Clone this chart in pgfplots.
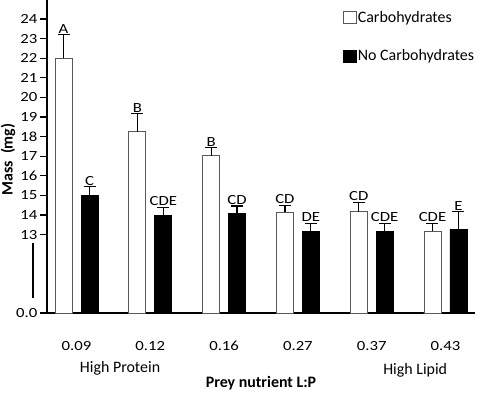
\documentclass[border=0pt]{standalone}
\usepackage{fontspec}
\setmainfont{Carlito}
\newfontfamily\stretchfont{Carlito}[FakeStretch=1.2]
\usepackage{pgfplots}
\usepackage{pgfplotstable}
\pgfplotsset{compat=1.18}
\pgfplotstableread{
g cm ce nm ne cl nl
0 22.00 1.20 15.00 0.45 A C
1 18.25 0.92 14.00 0.40 B CDE
2 17.03 0.40 14.09 0.37 B CD
3 14.14 0.36 13.18 0.40 CD DE
4 14.17 0.48 13.18 0.40 CD CDE
5 13.18 0.40 13.27 0.90 CDE E
}\data
\begin{document}
\begin{tikzpicture}
\begin{axis}[
  scale only axis, width=428bp, height=313bp,
  xmin=-0.4, xmax=5.4, ymin=0, ymax=15.97,
  axis x line*=bottom, axis y line*=left,
  axis line style={line width=1.6bp, -},
  tick align=outside, major tick length=7bp,
  ytick={0,4,5,6,7,8,9,10,11,12,13,14,15},
  yticklabels={0.0,13,14,15,16,17,18,19,20,21,22,23,24},
  ytick style={line width=1.1bp, black},
  xtick={0,1,2,3,4,5},
  xticklabels={0.09,0.12,0.16,0.27,0.37,0.43},
  xtick style={draw=none},
  /pgf/number format/assume math mode=true,
  yticklabel style={inner sep=2.5bp, font=\stretchfont\fontsize{14}{16}\selectfont},
  xticklabel style={yshift=-18bp, font=\stretchfont\fontsize{14}{16}\selectfont},
  clip=false,
  legend style={draw=none, fill=none, at={(rel axis cs:0.69,0.97)}, anchor=north west,
    inner sep=0pt, row sep=23bp, font=\fontsize{16}{18}\selectfont,
    nodes={inner sep=1.5bp}, cells={anchor=west}},
  legend image code/.code={\draw[#1, line width=0.8bp] (0bp,-6bp) rectangle (13bp,6bp);},
  nodes near coords style={font=\stretchfont\fontsize{14}{16}\selectfont, anchor=south, inner sep=1.2bp},
]
\coordinate (LL) at (rel axis cs:0,0);
\addplot[ybar, bar width=17bp, bar shift=0bp, fill=white, draw=gray!70!black, line width=0.8bp,
  error bars/.cd, y dir=plus, y explicit,
  error bar style={black, line width=1.2bp},
  error mark options={rotate=90, mark size=6bp, line width=1.2bp, black}]
  table[x expr=\thisrow{g}-0.176, y expr=\thisrow{cm}-9, y error=ce] {\data};
\addlegendentry{Carbohydrates}
\addplot[ybar, bar width=17bp, bar shift=0bp, fill=black, draw=black, line width=0.8bp,
  error bars/.cd, y dir=plus, y explicit,
  error bar style={black, line width=1.2bp},
  error mark options={rotate=90, mark size=6bp, line width=1.2bp, black}]
  table[x expr=\thisrow{g}+0.176, y expr=\thisrow{nm}-9, y error=ne] {\data};
\addlegendentry{No Carbohydrates}
\addplot[draw=none, mark=none, forget plot, nodes near coords, point meta=explicit symbolic]
  table[x expr=\thisrow{g}-0.176, y expr=\thisrow{cm}-9+\thisrow{ce}, meta=cl] {\data};
\addplot[draw=none, mark=none, forget plot, nodes near coords, point meta=explicit symbolic]
  table[x expr=\thisrow{g}+0.176, y expr=\thisrow{nm}-9+\thisrow{ne}, meta=nl] {\data};
\draw[line width=1.5bp] ([xshift=-14bp]rel axis cs:0,0.048) -- ([xshift=-14bp]rel axis cs:0,0.224);
\node[font=\fontsize{16}{18}\selectfont] at ([yshift=-55bp]axis cs:0.59,0) {High Protein};
\node[font=\fontsize{16}{18}\selectfont] at ([yshift=-57bp]axis cs:4.59,0) {High Lipid};
\node[font=\bfseries\fontsize{16}{18}\selectfont] at ([yshift=-70bp]rel axis cs:0.5,0) {Prey nutrient L:P};
\node[font=\bfseries\fontsize{16}{18}\selectfont, rotate=90] at ([xshift=-39bp]rel axis cs:0,0.49) {Mass\ \ (mg)};
\end{axis}
\pgfresetboundingbox
\path ([shift={(-47bp,-80bp)}]LL) rectangle ([shift={(433bp,313bp)}]LL);
\end{tikzpicture}
\end{document}
